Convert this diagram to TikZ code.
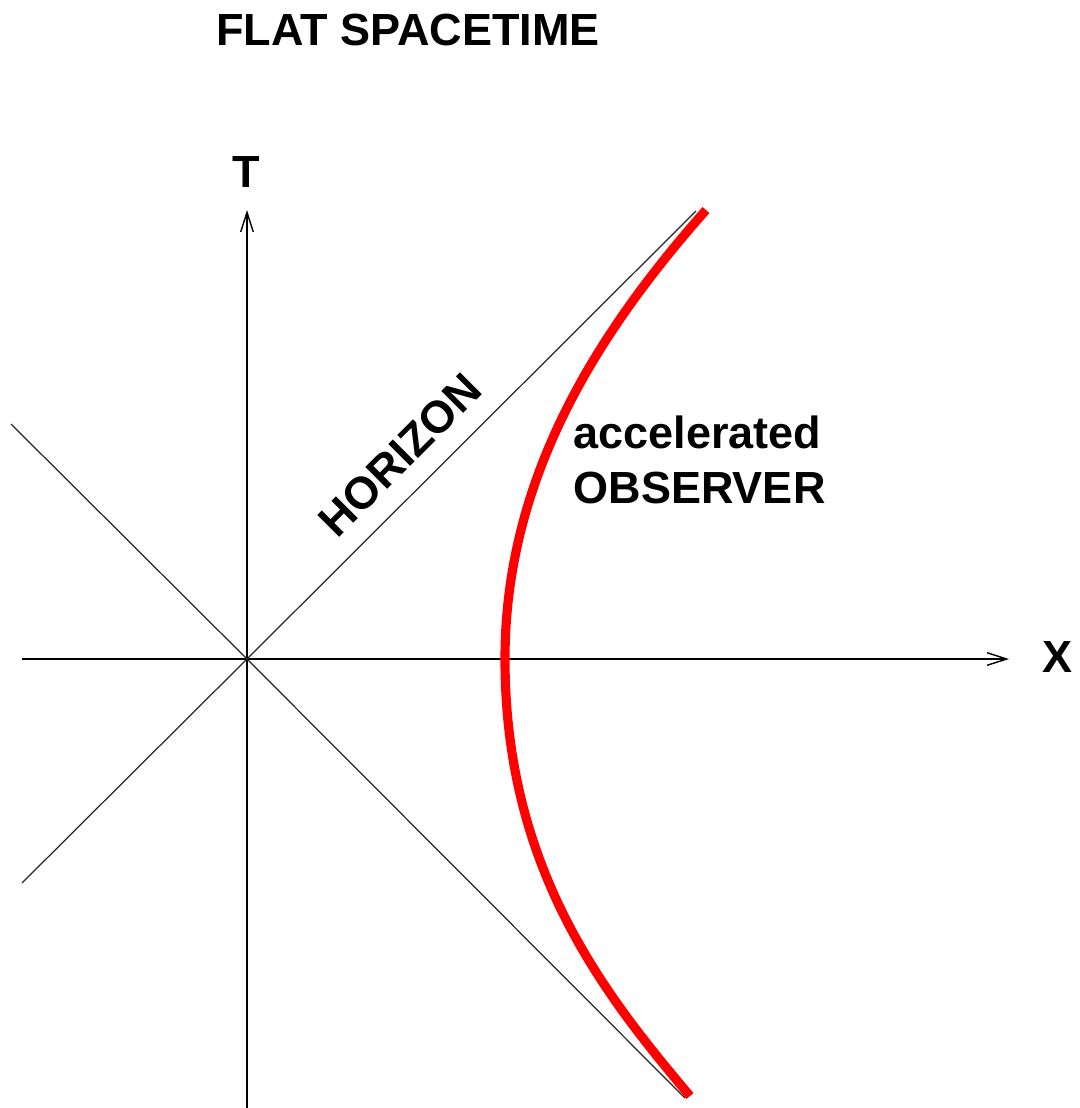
\documentclass[tikz,border=0pt]{standalone}
\usepackage{fontspec}
\setmainfont{Liberation Sans}
\usetikzlibrary{arrows.meta}
\tikzset{
  lbl/.style={font=\fontsize{12.8}{14}\selectfont\bfseries, inner sep=0pt},
  axis/.style={line width=0.55pt, -{Straight Barb[length=5.6pt,width=3.6pt,line width=0.4pt]}},
  diag/.style={line width=0.35pt, draw=black!85},
  worldline/.style={draw=red, line width=2.6pt, line cap=butt}
}
\begin{document}
\begin{tikzpicture}[x=0.01cm, y=-0.01cm]
\useasboundingbox (0,0) rectangle (1080,1108);
% coordinates
\coordinate (O) at (247,659);
\coordinate (Tbot) at (247,1108);
\coordinate (Ttop) at (247,210);
\coordinate (Xl) at (22,659);
\coordinate (Xr) at (1009,659);
\coordinate (D1a) at (11,424);
\coordinate (D1b) at (685,1098);
\coordinate (D2a) at (22,883);
\coordinate (D2b) at (696,211);
\coordinate (V) at (505,659);
\coordinate (Wtop) at (706,210);
\coordinate (Wbot) at (690,1096);
% labels
\node[lbl] (title) at (408,30) {FLAT SPACETIME};
\node[lbl] (Tlab) at (246,172) {T};
\node[lbl] (Xlab) at (1058,657) {X};
\node[lbl, rotate=45] (hor) at (400,455) {HORIZON};
\node[lbl, anchor=west] (acc) at (573,432) {accelerated};
\node[lbl, anchor=west] (obs) at (573,488) {OBSERVER};
% axes
\draw[axis] (Tbot) -- (Ttop);
\draw[axis] (Xl) -- (Xr);
% light cone
\draw[diag] (D1a) -- (O) -- (D1b);
\draw[diag] (D2a) -- (O) -- (D2b);
% accelerated observer
\draw[worldline] (Wtop) .. controls (600,330) and (505,475) .. (V)
  .. controls (505,870) and (605,995) .. (Wbot);
\end{tikzpicture}
\end{document}
